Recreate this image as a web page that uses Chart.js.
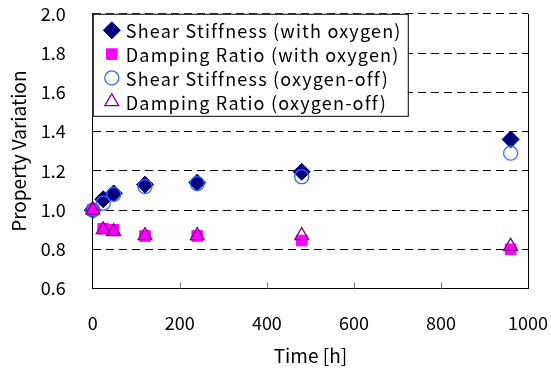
<!DOCTYPE html>
<html>
<head>
<meta charset="utf-8">
<script src="https://cdn.jsdelivr.net/npm/chart.js@4.4.0/dist/chart.umd.min.js"></script>
<style>
  html, body { margin: 0; padding: 0; background: #fff; }
  #wrap { width: 551px; height: 369px; }
</style>
</head>
<body>
<div id="wrap"><canvas id="grafico"></canvas></div>
<script>
// Datos
const horas = [0, 24, 48, 120, 240, 480, 960];
const rigidezConOxigeno = [1.0, 1.055, 1.085, 1.13, 1.14, 1.195, 1.36];
const amortConOxigeno = [1.0, 0.905, 0.90, 0.868, 0.868, 0.845, 0.80];
const rigidezSinOxigeno = [1.0, 1.035, 1.08, 1.12, 1.135, 1.17, 1.29];
const amortSinOxigeno = [1.0, 0.90, 0.89, 0.87, 0.87, 0.87, 0.815];
const ticksX = [0, 200, 400, 600, 800, 1000];
const ticksY = [0.6, 0.8, 1.0, 1.2, 1.4, 1.6, 1.8, 2.0];

const fuente = "'Noto Sans CJK JP', 'Noto Sans', sans-serif";

const puntos = (vals) => horas.map((h, i) => ({ x: h, y: vals[i] }));

// Leyenda dentro del área del gráfico + ticks internos + borde derecho
const extras = {
  id: 'extras',
  afterDraw(chart) {
    const { ctx, chartArea, scales } = chart;
    ctx.save();
    // ticks internos del eje x
    ctx.strokeStyle = '#777';
    ctx.lineWidth = 1;
    ticksX.forEach(v => {
      if (v === 0 || v === 1000) return;
      const px = Math.round(scales.x.getPixelForValue(v)) + 0.5;
      ctx.beginPath();
      ctx.moveTo(px, chartArea.bottom);
      ctx.lineTo(px, chartArea.bottom - 6);
      ctx.stroke();
    });
    // borde derecho
    ctx.strokeStyle = '#000';
    ctx.beginPath();
    ctx.moveTo(chartArea.right + 0.5, chartArea.top);
    ctx.lineTo(chartArea.right + 0.5, chartArea.bottom);
    ctx.stroke();

    // caja de leyenda
    const x0 = chartArea.left, y0 = chartArea.top;
    const w = 315, h = 102;
    ctx.fillStyle = '#fff';
    ctx.fillRect(x0, y0, w, h);
    ctx.strokeStyle = '#000';
    ctx.lineWidth = 1;
    ctx.strokeRect(x0 + 0.5, y0 + 0.5, w, h);
    ctx.font = '18px ' + fuente;
    ctx.letterSpacing = '1.2px';
    ctx.textBaseline = 'middle';
    chart.data.datasets.forEach((ds, i) => {
      const cy = y0 + 16.5 + i * 23.8;
      const cx = x0 + 19;
      ctx.fillStyle = ds.backgroundColor;
      ctx.strokeStyle = ds.borderColor;
      ctx.lineWidth = ds.borderWidth;
      Chart.helpers.drawPoint(ctx, { pointStyle: ds.pointStyle, rotation: ds.rotation || 0, radius: ds.pointRadius, borderWidth: ds.borderWidth }, cx, cy);
      ctx.fillStyle = '#000';
      ctx.fillText(ds.label, x0 + 33, cy + 1);
    });
    ctx.restore();
  }
};

new Chart(document.getElementById('grafico'), {
  type: 'scatter',
  data: {
    datasets: [
      { label: 'Shear Stiffness (with oxygen)', data: puntos(rigidezConOxigeno), pointStyle: 'rectRot', pointRadius: 8.5, backgroundColor: '#000080', borderColor: '#000080', borderWidth: 1, order: 4, clip: false },
      { label: 'Damping Ratio (with oxygen)', data: puntos(amortConOxigeno), pointStyle: 'rect', pointRadius: 7.5, backgroundColor: '#ff00ff', borderColor: '#ff00ff', borderWidth: 1, order: 3, clip: false },
      { label: 'Shear Stiffness (oxygen-off)', data: puntos(rigidezSinOxigeno), pointStyle: 'circle', pointRadius: 7, backgroundColor: 'rgba(0,0,0,0)', borderColor: '#3366ff', borderWidth: 1.3, order: 2, clip: false },
      { label: 'Damping Ratio (oxygen-off)', data: puntos(amortSinOxigeno), pointStyle: 'triangle', pointRadius: 8, backgroundColor: 'rgba(0,0,0,0)', borderColor: '#800080', borderWidth: 1.3, order: 1, clip: false }
    ]
  },
  options: {
    responsive: true,
    maintainAspectRatio: false,
    animation: false,
    layout: { padding: { left: 7, right: 3, top: 0, bottom: 2 } },
    plugins: { legend: { display: false }, tooltip: { enabled: false } },
    scales: {
      x: {
        type: 'linear', min: 0, max: 1000,
        afterBuildTicks: (s) => { s.ticks = ticksX.map(v => ({ value: v })); },
        grid: { display: true, drawOnChartArea: false, drawTicks: true, tickLength: 21, tickColor: 'rgba(0,0,0,0)', color: 'rgba(0,0,0,0)' },
        border: { display: true, color: '#000', width: 1 },
        ticks: { color: '#000', font: { size: 18, family: fuente }, padding: 3, maxRotation: 0, callback: (v) => String(v) },
        title: { display: true, text: 'Time [h]', color: '#000', font: { size: 19, family: fuente }, padding: { top: 7, bottom: 0 } }
      },
      y: {
        type: 'linear', min: 0.6, max: 2.0,
        afterBuildTicks: (s) => { s.ticks = ticksY.map(v => ({ value: v })); },
        grid: {
          drawTicks: true,
          tickLength: 24,
          tickColor: 'rgba(0,0,0,0)',
          color: (c) => (c.tick && c.tick.value > 0.7) ? '#000' : 'rgba(0,0,0,0)',
          lineWidth: 1
        },
        border: { display: true, color: '#000', width: 1, dash: [8, 5] },
        ticks: { color: '#000', font: { size: 18, family: fuente }, padding: 3, callback: (v) => Number(v).toFixed(1) },
        title: { display: true, text: 'Property Variation', color: '#000', font: { size: 19, family: fuente }, padding: { top: 0, bottom: 8 } }
      }
    }
  },
  plugins: [extras]
});
</script>
</body>
</html>
